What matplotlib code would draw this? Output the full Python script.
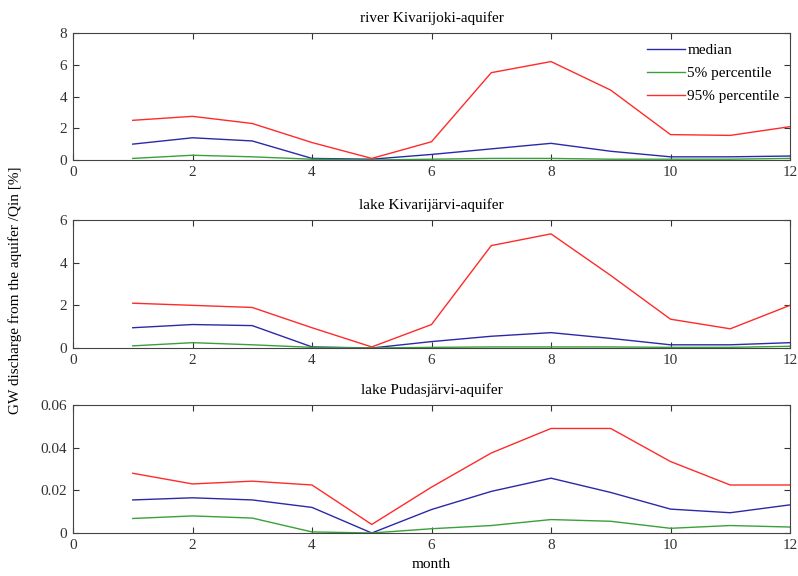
import matplotlib
matplotlib.use("Agg")
import matplotlib.pyplot as plt

months = list(range(1, 13))

titles = ["river Kivarijoki-aquifer", "lake Kivarijärvi-aquifer", "lake Pudasjärvi-aquifer"]

p1_median = [1.0, 1.4, 1.2, 0.1, 0.05, 0.35, 0.7, 1.05, 0.55, 0.2, 0.2, 0.25]
p1_p5 = [0.1, 0.3, 0.2, 0.05, 0.0, 0.05, 0.1, 0.1, 0.05, 0.05, 0.05, 0.1]
p1_p95 = [2.5, 2.75, 2.3, 1.1, 0.1, 1.15, 5.5, 6.2, 4.4, 1.6, 1.55, 2.1]

p2_median = [0.95, 1.1, 1.05, 0.05, 0.0, 0.3, 0.55, 0.72, 0.45, 0.15, 0.15, 0.25]
p2_p5 = [0.1, 0.25, 0.15, 0.03, 0.0, 0.03, 0.05, 0.05, 0.05, 0.03, 0.03, 0.08]
p2_p95 = [2.1, 2.0, 1.9, 0.95, 0.05, 1.1, 4.8, 5.35, 3.4, 1.35, 0.9, 2.0]

p3_median = [0.0155, 0.0165, 0.0155, 0.012, 0.0, 0.011, 0.0195, 0.0257, 0.019, 0.0112, 0.0095, 0.0132]
p3_p5 = [0.0068, 0.008, 0.007, 0.0005, 0.0, 0.002, 0.0035, 0.0063, 0.0055, 0.0022, 0.0035, 0.0028]
p3_p95 = [0.028, 0.023, 0.0243, 0.0225, 0.004, 0.0215, 0.0375, 0.049, 0.049, 0.0335, 0.0225, 0.0225]

ylims = [(0, 8), (0, 6), (0, 0.06)]
yticks = [[0, 2, 4, 6, 8], [0, 2, 4, 6], [0, 0.02, 0.04, 0.06]]
yticklabels = [["0", "2", "4", "6", "8"], ["0", "2", "4", "6"], ["0", "0.02", "0.04", "0.06"]]
xticks = [0, 2, 4, 6, 8, 10, 12]

plt.rcParams['font.family'] = ['Liberation Serif', 'DejaVu Serif']
plt.rcParams['font.size'] = 11

c_med = "#2a2aa8"
c_p5 = "#3aa03a"
c_p95 = "#ff2a2a"

fig = plt.figure(figsize=(7.98, 5.76), dpi=100)
W, H = 798, 576
boxes = [(33, 160), (220, 348), (405, 533)]
data = [(p1_median, p1_p5, p1_p95), (p2_median, p2_p5, p2_p95), (p3_median, p3_p5, p3_p95)]
axes = []
for i, (top, bot) in enumerate(boxes):
    ax = fig.add_axes([73 / W, 1 - bot / H, (790 - 73) / W, (bot - top) / H])
    med, p5, p95 = data[i]
    ax.plot(months, med, color=c_med, lw=1.0, label="median")
    ax.plot(months, p5, color=c_p5, lw=1.0, label="5% percentile")
    ax.plot(months, p95, color=c_p95, lw=1.0, label="95% percentile")
    ax.set_xlim(0, 12)
    ax.set_ylim(*ylims[i])
    ax.set_xticks(xticks)
    ax.set_yticks(yticks[i])
    ax.set_yticklabels(yticklabels[i])
    ax.tick_params(direction="in", top=True, right=True, length=4, labelsize=11,
                   colors="#333333", pad=4)
    for s in ax.spines.values():
        s.set_color("#444444")
        s.set_linewidth(0.8)
    ax.set_title(titles[i], fontsize=11, pad=8)
    axes.append(ax)

leg = axes[0].legend(loc="upper right", bbox_to_anchor=(1.0, 1.0), frameon=False, fontsize=11,
                     handlelength=2.5, handletextpad=0.15, borderaxespad=0.3, labelspacing=0.6)
axes[2].set_xlabel("month", fontsize=11, labelpad=5)
fig.text(15 / W, 1 - 290 / H, "GW discharge from the aquifer /Qin [%]", rotation=90,
         ha="center", va="center", fontsize=11)

fig.savefig("out.png", dpi=100)
